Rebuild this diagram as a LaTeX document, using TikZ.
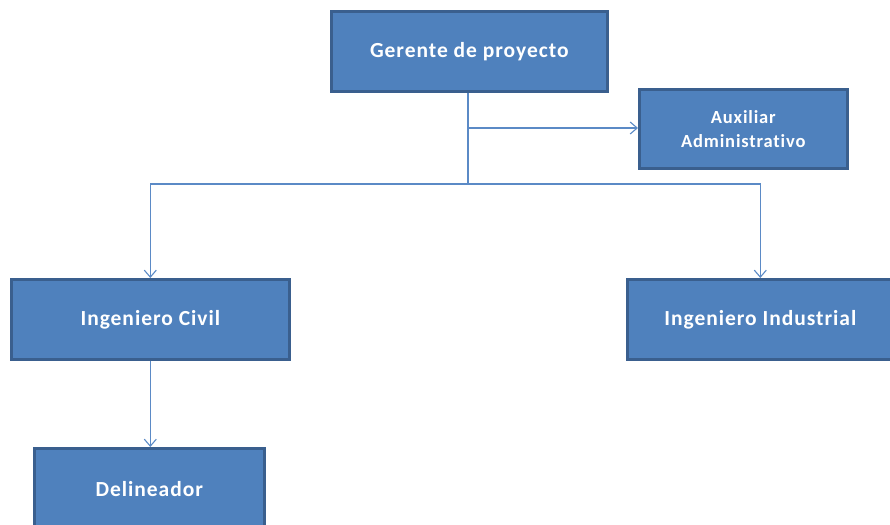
\documentclass[tikz,border=0pt]{standalone}
\usepackage{fontspec}
\setmainfont{Carlito}
\newfontfamily\boxfont[LetterSpace=4.5,Ligatures=NoCommon]{Carlito}
\usetikzlibrary{arrows.meta,shadows}
\definecolor{boxfill}{HTML}{4F81BD}
\definecolor{boxline}{HTML}{3A5F8E}
\definecolor{wire}{HTML}{5B8AC6}
\tikzset{
  unitbox/.style={draw=boxline, line width=2.6pt, fill=boxfill, text=white,
    font=\boxfont\bfseries\fontsize{21.5}{24}\selectfont, align=center,
    inner sep=0pt, anchor=north west,
    drop shadow={shadow xshift=1pt, shadow yshift=-1.5pt, opacity=0.35}},
  wireline/.style={draw=wire, line width=1.4pt},
  wirearrow/.style={wireline, -{Straight Barb[length=7pt,width=12pt,line width=1.1pt]}}
}
\begin{document}
\begin{tikzpicture}[x=1pt,y=-1pt]
\useasboundingbox (0,0) rectangle (890,524);
\clip (0,0) rectangle (890,524);
\fill[white] (0,0) rectangle (890,524);
\node[unitbox, minimum width=276pt, minimum height=80pt] (ger) at (330,10) {Gerente de proyecto};
\node[unitbox, minimum width=208pt, minimum height=79pt, font=\boxfont\bfseries\fontsize{18.5}{24}\selectfont] (aux) at (638,88) {Auxiliar\\Administrativo};
\node[unitbox, minimum width=278pt, minimum height=80pt] (civ) at (10,278) {Ingeniero Civil};
\node[unitbox, minimum width=266pt, minimum height=80pt] (ind) at (626,278) {Ingeniero Industrial};
\node[unitbox, minimum width=230pt, minimum height=82pt] (del) at (33,447) {Delineador};
\coordinate (trunk) at (468,184);
\coordinate (tap) at (468,128);
\draw[wireline] (ger.south -| trunk) -- (trunk);
\draw[wirearrow] (tap) -- (aux.west |- tap);
\draw[wirearrow] (trunk) -| (civ.north);
\draw[wirearrow] (trunk) -| (ind.north);
\draw[wirearrow] (civ.south) -- (del.north -| civ.south);
\end{tikzpicture}
\end{document}
